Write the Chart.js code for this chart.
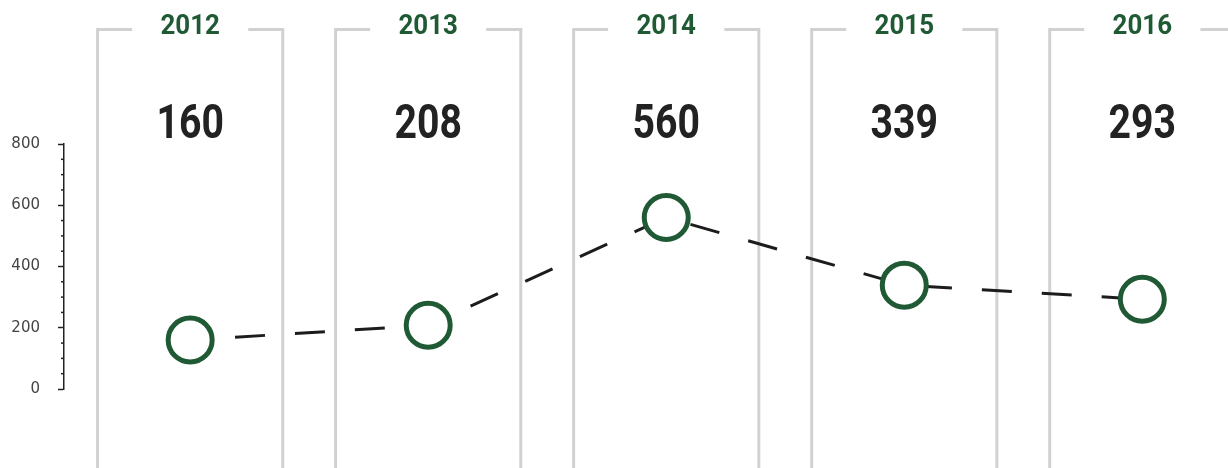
<!DOCTYPE html>
<html>
<head>
<meta charset="utf-8">
<script src="https://cdn.jsdelivr.net/npm/chart.js@4"></script>
<style>
  html, body { margin: 0; padding: 0; background: #fff; }
  .wrap { width: 1228px; height: 468px; position: relative; }
</style>
</head>
<body>
<div class="wrap"><canvas id="myChart"></canvas></div>
<script>
const years = ['2012', '2013', '2014', '2015', '2016']
const counts = [160, 208, 560, 339, 293]
const yMax = 800
const yStep = 200
const minorStep = 50

const green = '#1f5a35'
const panelGrey = '#d3d1cf'

// draw text squeezed horizontally (no condensed font installed)
const narrowText = (ctx, txt, x, y, sx) => {
    ctx.save()
    ctx.translate(x, y)
    ctx.scale(sx, 1)
    ctx.fillText(txt, 0, 0)
    ctx.restore()
}

// grey bracket panels + year and value text behind the line
const panels = {
    id: 'panels',
    beforeDatasetsDraw(chart) {
        const ctx = chart.ctx
        const x = chart.scales.x
        const step = x.getPixelForValue(1) - x.getPixelForValue(0)
        const half = step * 0.389
        const gap = step * 0.244
        const top = 29.5
        const bottom = chart.height
        ctx.save()
        ctx.strokeStyle = panelGrey
        ctx.lineWidth = 3
        years.forEach((yr, i) => {
            const cx = x.getPixelForValue(i)
            ctx.beginPath()
            ctx.moveTo(cx - gap, top)
            ctx.lineTo(cx - half, top)
            ctx.lineTo(cx - half, bottom)
            ctx.moveTo(cx + gap, top)
            ctx.lineTo(cx + half, top)
            ctx.lineTo(cx + half, bottom)
            ctx.stroke()

            ctx.textAlign = 'center'
            ctx.textBaseline = 'alphabetic'
            ctx.fillStyle = green
            ctx.font = 'bold 27px Roboto'
            narrowText(ctx, yr, cx, 34, 0.96)
            ctx.fillStyle = '#222'
            ctx.font = 'bold 49px Roboto'
            narrowText(ctx, String(counts[i]), cx, 138, 0.8)
        })

        // minor ticks on the y axis
        const y = chart.scales.y
        const left = chart.chartArea.left
        ctx.strokeStyle = '#222'
        ctx.lineWidth = 1.5
        for (let v = 0; v <= yMax; v += minorStep) {
            if (v % yStep === 0) continue
            const py = y.getPixelForValue(v)
            ctx.beginPath()
            ctx.moveTo(left - 3, py)
            ctx.lineTo(left, py)
            ctx.stroke()
        }
        ctx.restore()
    }
}

new Chart(document.getElementById('myChart'), {
    type: 'line',
    data: {
        datasets: [{
            data: counts.map((v, i) => ({ x: i, y: v })),
            borderColor: '#1c1c1c',
            borderWidth: 3,
            borderDash: [30, 30],
            borderDashOffset: 15,
            tension: 0,
            pointRadius: 22,
            pointHoverRadius: 22,
            pointBorderWidth: 5,
            pointBorderColor: green,
            pointBackgroundColor: '#fff',
            clip: false
        }]
    },
    options: {
        responsive: true,
        maintainAspectRatio: false,
        animation: false,
        layout: { autoPadding: false, padding: { left: 12, top: 144, right: 0, bottom: 79 } },
        plugins: { legend: { display: false }, tooltip: { enabled: false } },
        scales: {
            x: { type: 'linear', min: -0.53, max: 4.36, display: false },
            y: {
                min: 0,
                max: yMax,
                afterFit: (scale) => { scale.width = 52 },
                ticks: {
                    stepSize: yStep,
                    padding: 18,
                    color: '#444',
                    font: { family: 'DejaVu Sans', size: 15 }
                },
                grid: {
                    drawOnChartArea: false,
                    drawTicks: true,
                    tickLength: 6,
                    tickColor: '#222',
                    tickWidth: 1.5
                },
                border: { display: true, color: '#222', width: 1.5 }
            }
        }
    },
    plugins: [panels]
})
</script>
</body>
</html>
